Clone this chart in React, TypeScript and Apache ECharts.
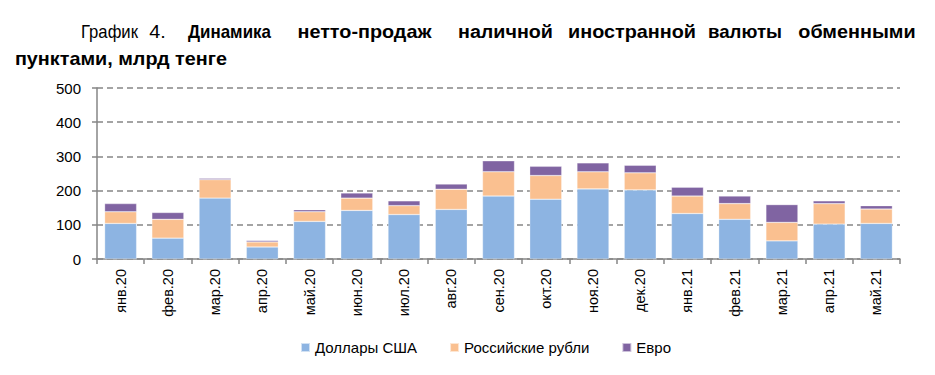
import React, { useEffect, useRef } from "react";
import * as echarts from "echarts";

const categories = [
  "янв.20", "фев.20", "мар.20", "апр.20", "май.20", "июн.20", "июл.20", "авг.20", "сен.20",
  "окт.20", "ноя.20", "дек.20", "янв.21", "фев.21", "мар.21", "апр.21", "май.21",
];
const usd = [104, 61, 178, 35, 110, 142, 130, 145, 184, 175, 205, 202, 133, 116, 53, 102, 104];
const rub = [34, 55, 54, 15, 28, 36, 26, 59, 71, 69, 50, 50, 51, 46, 54, 60, 42];
const eur = [24, 20, 4, 4, 6, 15, 14, 15, 32, 27, 26, 22, 26, 22, 52, 8, 10];
const seriesNames = ["Доллары США", "Российские рубли", "Евро"];
const seriesColors = ["#8DB4E2", "#FAC090", "#8064A2"];
const yTicks = { min: 0, max: 500, interval: 100 };

const titleLine1 = [
  { text: "График", bold: false, x0: 81, x1: 138 },
  { text: "4.", bold: false, x0: 149, x1: 166 },
  { text: "Динамика", bold: true, x0: 188, x1: 271 },
  { text: "нетто-продаж", bold: true, x0: 283, x1: 446 },
  { text: "наличной", bold: true, x0: 458, x1: 553 },
  { text: "иностранной", bold: true, x0: 567, x1: 697 },
  { text: "валюты", bold: true, x0: 708, x1: 782 },
  { text: "обменными", bold: true, x0: 795, x1: 919 },
];
const titleLine2 = [
  { text: "пунктами, млрд тенге", bold: true, x0: 10, x1: 232 },
];

const FONT = "'Liberation Sans', Arial, sans-serif";
const TITLE_SIZE = 18;

export default function App() {
  const ref = useRef<HTMLDivElement>(null);
  useEffect(() => {
    if (!ref.current) return;
    const chart = echarts.init(ref.current, undefined, { renderer: "svg" });
    const data = [usd, rub, eur];
    const ctx = document.createElement("canvas").getContext("2d");
    const mk = (w: { text: string; bold: boolean; x0: number; x1: number }, y: number) => {
      const font = `${w.bold ? "bold " : ""}${TITLE_SIZE}px ${FONT}`;
      const target = w.x1 - w.x0;
      let measured = target;
      if (ctx) {
        ctx.font = font;
        measured = ctx.measureText(w.text).width || target;
      }
      const s = Math.min(1.1, Math.max(0.9, target / measured));
      const x = (w.x0 + w.x1) / 2 - (measured * s) / 2;
      return {
        type: "text",
        x,
        y,
        scaleX: s,
        scaleY: 1,
        style: {
          text: w.text,
          font,
          fill: "#000",
          align: "left",
          verticalAlign: "top",
        },
      };
    };
    const graphics: any[] = [
      ...titleLine1.map((w) => mk(w, 23)),
      ...titleLine2.map((w) => mk(w, 50)),
    ];
    chart.setOption({
      animation: false,
      textStyle: { fontFamily: FONT },
      graphic: graphics,
      grid: { left: 97, right: 35, top: 88, bottom: 116, containLabel: false },
      legend: {
        data: seriesNames,
        left: 295,
        top: 335,
        icon: "rect",
        itemWidth: 9,
        itemHeight: 9,
        itemGap: 32,
        textStyle: { fontSize: 15, color: "#000", fontFamily: FONT },
      },
      xAxis: {
        type: "category",
        data: categories,
        axisLine: { lineStyle: { color: "#868686", width: 1.5 } },
        axisTick: { show: true, length: 5, lineStyle: { color: "#868686", width: 1.5 } },
        axisLabel: { rotate: 90, margin: 10, fontSize: 14.5, color: "#000", fontFamily: FONT },
      },
      yAxis: {
        type: "value",
        min: yTicks.min,
        max: yTicks.max,
        interval: yTicks.interval,
        axisLine: { show: true, lineStyle: { color: "#868686", width: 1.5 } },
        axisTick: { show: true, length: 5, lineStyle: { color: "#868686", width: 1.5 } },
        axisLabel: { margin: 16, fontSize: 15, color: "#000", fontFamily: FONT },
        splitLine: { lineStyle: { color: "#868686", width: 1.5, type: [6, 4] } },
      },
      series: seriesNames.map((name, i) => ({
        name,
        type: "bar",
        stack: "total",
        barWidth: 32,
        data: data[i],
        itemStyle: { color: seriesColors[i], borderColor: "rgba(255,255,255,0.6)", borderWidth: 0.5 },
      })),
    });
    return () => chart.dispose();
  }, []);
  return (
    <div
      ref={ref}
      style={{ position: "fixed", left: 0, top: 0, width: 935, height: 375, background: "#fff" }}
    />
  );
}
